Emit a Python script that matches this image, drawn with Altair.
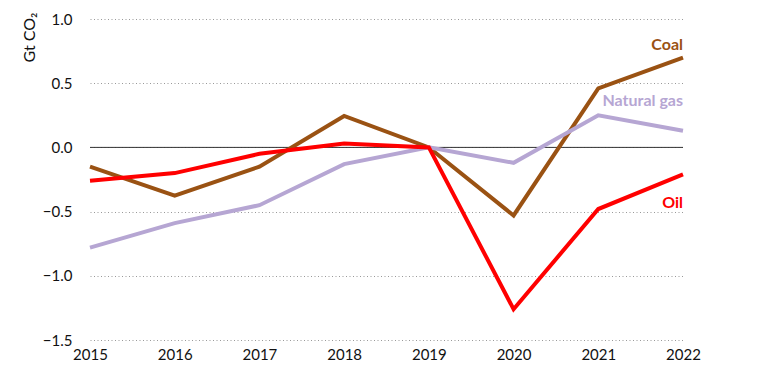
import altair as alt
import pandas as pd

years = [2015, 2016, 2017, 2018, 2019, 2020, 2021, 2022]
coal = [-0.15, -0.375, -0.15, 0.245, 0.0, -0.53, 0.46, 0.70]
gas = [-0.78, -0.59, -0.45, -0.13, 0.0, -0.12, 0.25, 0.13]
oil = [-0.26, -0.20, -0.05, 0.03, 0.0, -1.26, -0.48, -0.21]

series = ["Coal", "Natural gas", "Oil"]
colors = ["#9A5213", "#B6A6D3", "#FF0000"]
label_y = [0.80, 0.36, -0.43]

rows = []
for name, vals in zip(series, [coal, gas, oil]):
    for y, v in zip(years, vals):
        rows.append({"year": y, "value": v, "fuel": name})
df = pd.DataFrame(rows)
labels = pd.DataFrame({"fuel": series, "year": [2022] * 3, "value": label_y})
zero = pd.DataFrame({"value": [0.0]})

FONT = "Lato"
xscale = alt.Scale(domain=[2015, 2022], nice=False, zero=False)
yscale = alt.Scale(domain=[-1.5, 1.0], nice=False)
cscale = alt.Scale(domain=series, range=colors)

xaxis = alt.Axis(title=None, values=years, format="d", domain=False, ticks=False,
                 grid=False, labelFont=FONT, labelFontSize=15, labelColor="#111",
                 labelPadding=7, labelFlush=False)
yaxis = alt.Axis(title="Gt CO\u2082", values=[-1.5, -1.0, -0.5, 0.0, 0.5, 1.0], format=".1f",
                 domain=False, ticks=False, grid=True, gridColor="#999", gridDash=[1, 2.5],
                 gridWidth=1.2, labelFont=FONT, labelFontSize=15, labelColor="#111",
                 labelPadding=18, labelFlush=False, titleFont=FONT, titleFontSize=16,
                 titleFontWeight="normal", titleColor="#111", titleAngle=-90,
                 titleX=-61, titleY=18, titleAlign="center", titleBaseline="middle")

X = alt.X("year:Q", scale=xscale, axis=xaxis)
Y = alt.Y("value:Q", scale=yscale, axis=yaxis)

lines = alt.Chart(df).mark_line(strokeWidth=4).encode(
    x=X, y=Y,
    color=alt.Color("fuel:N", scale=cscale, legend=None),
    order=alt.Order("year:Q"),
)

zero_rule = alt.Chart(zero).mark_rule(color="#333", strokeWidth=1).encode(y=Y)

text = alt.Chart(labels).mark_text(align="right", baseline="middle", fontWeight="bold",
                                   font=FONT, fontSize=16).encode(
    x=X, y=Y,
    text="fuel:N",
    color=alt.Color("fuel:N", scale=cscale, legend=None),
)

chart = alt.layer(zero_rule, lines, text).properties(
    width=593, height=321,
    background="white",
    autosize=alt.AutoSizeParams(type="none"),
    padding={"left": 82, "top": 11, "right": 40, "bottom": 30},
).configure_view(strokeWidth=0)

chart.save("out.html", embed_options={"renderer": "svg", "actions": False})
